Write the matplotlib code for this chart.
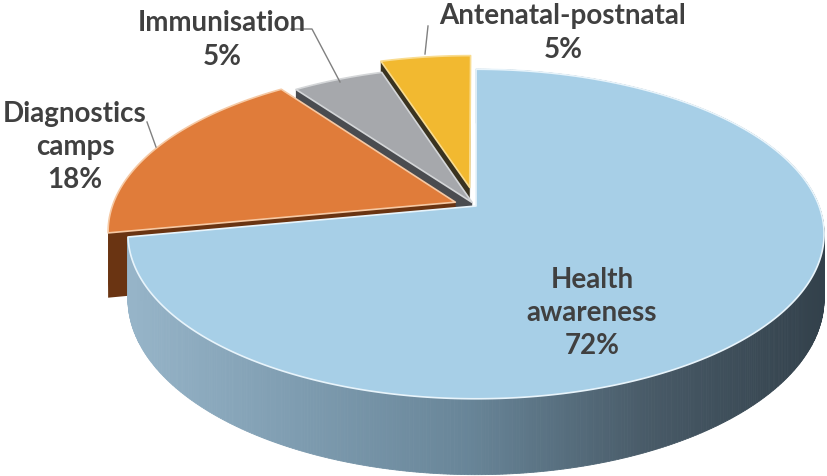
import numpy as np
import matplotlib.pyplot as plt
from matplotlib.patches import Polygon

# data (Excel-style 3D pie, first slice starts at 12 o'clock, clockwise)
labels = ['Health\nawareness', 'Diagnostics\ncamps', 'Immunisation', 'Antenatal-postnatal']
shares = [72, 18, 5, 5]
explode = [0.0, 0.065, 0.025, 0.12]

top_colors = ['#a7cfe7', '#e07c3a', '#a6a8ac', '#f2b930']
side_colors = ['#6f8ea3', '#6a3412', '#4a4c50', '#3a3320']
edge_colors = ['#e8f4fb', '#f6c9a4', '#d4d6d8', '#f9dc90']

# layout of the projected pie (pixel units)
CX, CY = 476, 207
RX, RY = 343, 160
P = 0.17
DEPTH = 63

label_pos = [(592, 313), (75, 147), (222, 40), (563, 33)]
leaders = [None, [(147, 123), (156, 148)],
           [(291, 30), (312, 30), (340, 83)],
           [(428, 27), (425, 55)]]


def project(u, v, z=0.0):
    s = 1.0 / (1.0 + P * v)
    return CX + RX * u * s, CY - RY * v * s + DEPTH * z * s


def side_shade(x):
    xs = [120, 300, 470, 650, 830]
    cs = np.array([[152, 182, 202], [126, 156, 176], [104, 133, 152],
                   [72, 90, 103], [50, 64, 74]]) / 255.0
    return tuple(np.interp(x, xs, cs[:, k]) for k in range(3))


fig = plt.figure(figsize=(8.27, 4.77), dpi=100)
ax = fig.add_axes([0, 0, 1, 1])
ax.set_xlim(0, 827)
ax.set_ylim(477, 0)
ax.axis('off')

cum = np.cumsum([0] + shares) / sum(shares)
slices = []
for i in range(len(shares)):
    t1 = np.radians(90 - cum[i] * 360)
    t2 = np.radians(90 - cum[i + 1] * 360)
    mid = (t1 + t2) / 2
    ox, oy = explode[i] * np.cos(mid), explode[i] * np.sin(mid)
    n = max(int(abs(t1 - t2) * 120), 8)
    t = np.linspace(t2, t1, n)
    slices.append((i, t, ox, oy, np.sin(mid)))

# paint back slices first
for i, t, ox, oy, depth_key in sorted(slices, key=lambda s: -s[4]):
    u = ox + np.cos(t)
    v = oy + np.sin(t)
    xt, yt = project(u, v, 0)
    xb, yb = project(u, v, 1)
    vx_t, vy_t = project(ox, oy, 0)
    vx_b, vy_b = project(ox, oy, 1)

    # radial faces
    for k in (0, -1):
        face = [(vx_t, vy_t), (xt[k], yt[k]), (xb[k], yb[k]), (vx_b, vy_b)]
        ax.add_patch(Polygon(face, closed=True, fc=side_colors[i], ec='none'))

    # outer curved side
    if i == 0:
        for k in range(len(t) - 1):
            quad = [(xt[k], yt[k]), (xt[k + 1], yt[k + 1]),
                    (xb[k + 1], yb[k + 1]), (xb[k], yb[k])]
            c = side_shade((xt[k] + xt[k + 1]) / 2)
            ax.add_patch(Polygon(quad, closed=True, fc=c, ec=c, lw=0.6))
    else:
        side = list(zip(xt, yt)) + list(zip(xb[::-1], yb[::-1]))
        ax.add_patch(Polygon(side, closed=True, fc=side_colors[i], ec='none'))

    # top face
    top = [(vx_t, vy_t)] + list(zip(xt, yt))
    ax.add_patch(Polygon(top, closed=True, fc=top_colors[i],
                         ec=edge_colors[i], lw=1.2, joinstyle='round'))

# labels
for i in range(len(shares)):
    ax.text(label_pos[i][0], label_pos[i][1], '%s\n%d%%' % (labels[i], shares[i]),
            ha='center', va='center', fontsize=20, fontweight='bold',
            family='Lato', color='#404040', linespacing=1.35)
    if leaders[i]:
        xs, ys = zip(*leaders[i])
        ax.plot(xs, ys, color='#808080', lw=1)

fig.savefig('out.png', dpi=100)
